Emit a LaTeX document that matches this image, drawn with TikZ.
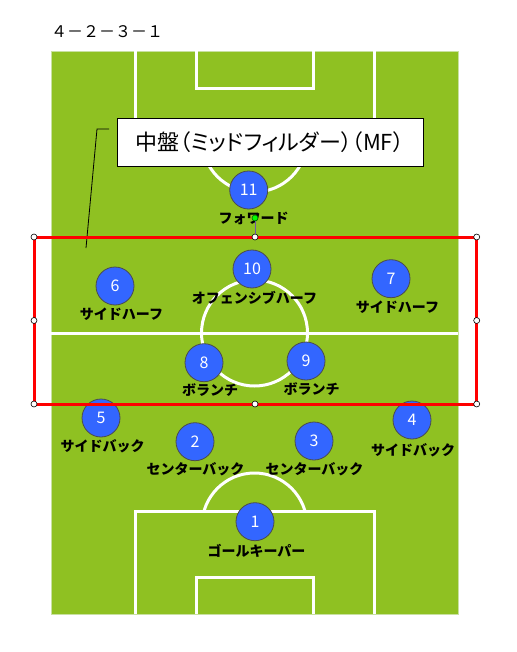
\documentclass[tikz,border=0pt]{standalone}
\usepackage{fontspec}
\newfontfamily\jp{Noto Sans CJK JP}
\newfontfamily\jpp[RawFeature=+palt]{Noto Sans CJK JP}
\definecolor{pitch}{RGB}{143,193,34}
\definecolor{pitchedge}{RGB}{200,225,160}
\definecolor{player}{RGB}{51,102,255}
\definecolor{selred}{RGB}{255,0,0}
\definecolor{rotline}{RGB}{110,90,160}
\tikzset{
  fieldline/.style={draw=white, line width=3pt},
  playerdot/.style={circle, fill=player, draw=black!70, line width=0.8pt, minimum size=38pt, inner sep=0pt, text=white, font=\jp\fontsize{16}{16}\selectfont},
  role/.style={font=\jp\bfseries\fontsize{14}{14}\selectfont, text=black, inner sep=0pt},
  handle/.style={circle, fill=white, draw=black, line width=0.6pt, minimum size=6pt, inner sep=0pt},
}
\begin{document}
\begin{tikzpicture}[x=1pt,y=-1pt]
\useasboundingbox (0,0) rectangle (516,652);
\fill[white] (0,0) rectangle (516,652);
% title
\node[anchor=west, inner sep=0pt, font=\jp\fontsize{16}{16}\selectfont] (title) at (51,32) {４－２－３－１};
% pitch
\fill[pitch, draw=pitchedge, line width=0.8pt] (51,51) rectangle (458,614);
% halfway line
\draw[fieldline] (51,333.5) -- (458,333.5);
% centre circle
\draw[fieldline] (254.5,333) circle (53);
% top penalty area
\draw[fieldline] (135,51) -- (135,154) -- (374,154) -- (374,51);
\draw[fieldline] (196,51) -- (196,88.5) -- (313,88.5) -- (313,51);
\begin{scope}
\clip (100,154) rectangle (400,260);
\draw[fieldline] (254.5,139.5) circle (52.5);
\end{scope}
% bottom penalty area
\draw[fieldline] (135,614) -- (135,511) -- (374,511) -- (374,614);
\draw[fieldline] (196,614) -- (196,577.5) -- (313,577.5) -- (313,614);
\begin{scope}
\clip (100,511) rectangle (400,400);
\draw[fieldline] (254.5,525.5) circle (52.5);
\end{scope}
% callout
\node[draw=black, fill=white, line width=0.8pt, minimum width=306pt, minimum height=48pt, inner sep=0pt,
      font=\jpp\fontsize{22}{22}\selectfont] (callout) at (270,142) {中盤（ミッドフィルダー）（MF）};
\coordinate (lead0) at (109,129);
\coordinate (lead1) at (97,129);
\coordinate (lead2) at (86,248);
\draw[black, line width=0.8pt] (lead0) -- (lead1) -- (lead2);
% players
\node[playerdot] (p11) at (248.7,190) {11};
\node[role] (r11) at (253.5,218) {フォワード};
\node[playerdot] (p10) at (252,269) {10};
\node[role] (r10) at (254.5,297.5) {オフェンシブハーフ};
\node[playerdot] (p6) at (115,286) {6};
\node[role] (r6) at (121.5,314) {サイドハーフ};
\node[playerdot] (p7) at (391,278.7) {7};
\node[role] (r7) at (397.5,307) {サイドハーフ};
\node[playerdot] (p8) at (204,362.7) {8};
\node[role] (r8) at (210,390) {ボランチ};
\node[playerdot] (p9) at (306,361) {9};
\node[role] (r9) at (311.5,389) {ボランチ};
\node[playerdot] (p5) at (101,418) {5};
\node[role] (r5) at (102.5,446.7) {サイドバック};
\node[playerdot] (p4) at (412,420) {4};
\node[role] (r4) at (413,450) {サイドバック};
\node[playerdot] (p2) at (195,441.7) {2};
\node[role] (r2) at (195.5,469) {センターバック};
\node[playerdot] (p3) at (314,441) {3};
\node[role] (r3) at (314.5,469) {センターバック};
\node[playerdot] (p1) at (255,521.7) {1};
\node[role] (r1) at (256.5,550.7) {ゴールキーパー};
% selection rectangle
\coordinate (s1) at (34,237);
\coordinate (s2) at (476.7,237);
\coordinate (s3) at (476.7,404);
\coordinate (s4) at (34,404);
\draw[selred, line width=3pt] (s1) rectangle (s3);
\node[handle] (h1) at (s1) {};
\node[handle] (h2) at (255,237) {};
\node[handle] (h3) at (s2) {};
\node[handle] (h4) at (476.7,320.5) {};
\node[handle] (h5) at (s3) {};
\node[handle] (h6) at (255,404) {};
\node[handle] (h7) at (s4) {};
\node[handle] (h8) at (34,320.5) {};
\node[circle, fill=green, draw=black!60!green, line width=0.6pt, minimum size=6pt, inner sep=0pt] (rot) at (255,218) {};
\draw[rotline, line width=0.8pt] (rot) -- (h2);
\end{tikzpicture}
\end{document}
